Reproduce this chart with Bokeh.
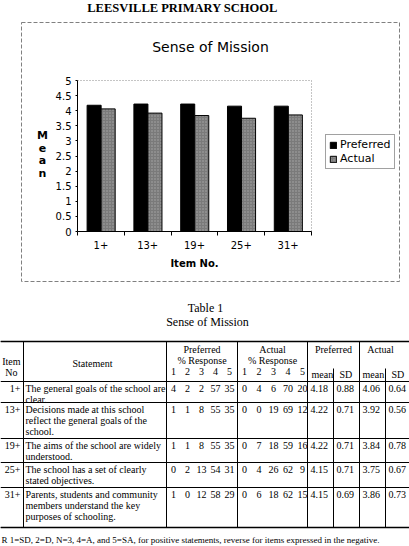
from bokeh.plotting import figure
from bokeh.models import (Range1d, FixedTicker, Legend, LegendItem, LinearAxis,
                          ColumnDataSource, CustomJSTickFormatter)
from bokeh.embed import file_html
from bokeh.resources import INLINE
from bokeh.core.properties import value

# ---------------- data ----------------
school = "LEESVILLE PRIMARY SCHOOL"
chart_title = "Sense of Mission"
y_title = "Mean"
x_title = "Item No."
items = ["1+", "13+", "19+", "25+", "31+"]
preferred = [4.18, 4.22, 4.22, 4.15, 4.15]
actual = [4.06, 3.92, 3.84, 3.75, 3.86]
y_ticks = [0, 0.5, 1, 1.5, 2, 2.5, 3, 3.5, 4, 4.5, 5]
series_names = ["Preferred", "Actual"]

table_caption = ["Table 1", "Sense of Mission"]
item_header = ["Item", "No"]
statement_header = "Statement"
pct_header = "% Response"
stat_header = ["mean", "SD", "mean", "SD"]
statements = [
    ["The general goals of the school are", "clear."],
    ["Decisions made at this school", "reflect the general goals of the", "school."],
    ["The aims of the school are widely", "understood."],
    ["The school has a set of clearly", "stated objectives."],
    ["Parents, students and community", "members understand the key", "purposes of schooling."],
]
scale_points = ["1", "2", "3", "4", "5"]
pref_pct = [[4, 2, 2, 57, 35], [1, 1, 8, 55, 35], [1, 1, 8, 55, 35], [0, 2, 13, 54, 31], [1, 0, 12, 58, 29]]
act_pct = [[0, 4, 6, 70, 20], [0, 0, 19, 69, 12], [0, 7, 18, 59, 16], [0, 4, 26, 62, 9], [0, 6, 18, 62, 15]]
pref_sd = [0.88, 0.71, 0.71, 0.71, 0.69]
act_sd = [0.64, 0.56, 0.78, 0.67, 0.73]
footnote = "R 1=SD, 2=D, N=3, 4=A, and 5=SA, for positive statements, reverse for items expressed in the negative."

# ---------------- layout constants (page pixels) ----------------
W, H = 409, 546
FL, FR, FT, FB = 77, 311, 80, 231      # plot area of the bar chart
SANS = "DejaVu Sans"
SERIF = "Liberation Serif"

n = len(items)
y_max = y_ticks[-1]

p = figure(width=W, height=H, x_range=Range1d(0, W), y_range=Range1d(H, 0),
           x_axis_type=None, y_axis_type=None, min_border=0,
           output_backend="svg", toolbar_location=None,
           background_fill_color="white", border_fill_color="white")
p.outline_line_color = None

# chart scales placed inside the page
vpx = n / (FR - FL)
cat0 = -FL * vpx
vpy = y_max / (FB - FT)
val0 = -(H - FB) * vpy
p.extra_x_ranges = {"cat": Range1d(cat0, cat0 + W * vpx)}
p.extra_y_ranges = {"val": Range1d(val0, val0 + H * vpy)}


def txt(xs, ys, texts, align, size="10px", font=SERIF, style="normal", baseline="middle"):
    p.text(x=xs, y=ys, text=texts, text_font=value(font), text_font_size=value(size),
           text_font_style=style, text_align=align, text_baseline=baseline, text_color="black")


# ---------------- chart ----------------
p.quad(left=[21], right=[399], top=[22], bottom=[281], fill_alpha=0,
       line_color="#808080", line_dash="4 2", line_width=1)
p.line(x=[0, n, n], y=[y_max, y_max, 0], x_range_name="cat", y_range_name="val",
       line_color="#8a8a8a", line_dash="1 2", line_width=1)

src = ColumnDataSource(dict(xp=[i + 0.355 for i in range(n)], xa=[i + 0.655 for i in range(n)],
                            pref=preferred, act=actual))
r1 = p.vbar(x="xp", top="pref", bottom=0, width=0.3, source=src, fill_color="black",
            line_color="black", x_range_name="cat", y_range_name="val")
r2 = p.vbar(x="xa", top="act", bottom=0, width=0.3, source=src, fill_color="#7a7a7a",
            line_color="black", hatch_pattern="dot", hatch_color="white", hatch_alpha=0.35,
            hatch_scale=3, hatch_weight=1, x_range_name="cat", y_range_name="val")

ya = LinearAxis(x_range_name="cat", y_range_name="val", fixed_location=0, bounds=(0, y_max),
                ticker=FixedTicker(ticks=y_ticks),
                formatter=CustomJSTickFormatter(code="return String(tick);"))
ya.major_tick_in = 0
ya.major_tick_out = 2
ya.minor_tick_out = 0
ya.axis_line_color = "black"
ya.major_label_text_font = SANS
ya.major_label_text_font_size = "10px"
ya.major_label_text_color = "black"
ya.major_label_standoff = 4
p.add_layout(ya, "left")

xa = LinearAxis(x_range_name="cat", y_range_name="val", fixed_location=0, bounds=(0, n),
                ticker=FixedTicker(ticks=[i + 0.5 for i in range(n)], minor_ticks=list(range(n + 1))),
                formatter=CustomJSTickFormatter(args=dict(labels=items),
                                                code="return labels[Math.round(tick - 0.5)];"))
xa.major_tick_in = 0
xa.major_tick_out = 0
xa.minor_tick_in = 0
xa.minor_tick_out = 4
xa.minor_tick_line_color = "black"
xa.axis_line_color = "black"
xa.major_label_text_font = SANS
xa.major_label_text_font_size = "10px"
xa.major_label_text_color = "black"
xa.major_label_standoff = 5
xa.axis_label = x_title
xa.axis_label_text_font = SANS
xa.axis_label_text_font_size = "10px"
xa.axis_label_text_font_style = "bold"
xa.axis_label_text_color = "black"
xa.axis_label_standoff = 6
p.add_layout(xa, "below")

txt([182], [7], [school], "center", size="12.5px", style="bold", baseline="alphabetic")
txt([210], [46], [chart_title], "center", size="14px", font=SANS)
txt([42] * len(y_title), [135 + 12.7 * k for k in range(len(y_title))], list(y_title),
    "center", size="11px", font=SANS, style="bold")

legend = Legend(items=[LegendItem(label=series_names[0], renderers=[r1]),
                       LegendItem(label=series_names[1], renderers=[r2])],
                location=(325, H - 169))
legend.label_text_font = SANS
legend.label_text_font_size = "11px"
legend.label_text_color = "black"
legend.glyph_width = 8
legend.glyph_height = 8
legend.label_standoff = 3
legend.label_height = 12
legend.padding = 3
legend.spacing = 1
legend.margin = 0
legend.border_line_color = "#444444"
legend.border_line_width = 1
legend.background_fill_color = "white"
legend.background_fill_alpha = 1
p.add_layout(legend)

# ---------------- table ----------------
row_bounds = [381, 402, 438, 462, 487, 527]
top_y = 341
col_x = [23, 166, 237, 307, 333, 359, 385]
line_gap = 11

txt([205, 207], [307, 321], table_caption, "center", size="12px")

hy = [top_y] + row_bounds
p.segment(x0=[0] * len(hy), y0=hy, x1=[W] * len(hy), y1=hy, line_color="black", line_width=1)
p.segment(x0=[0, 0], y0=[top_y, row_bounds[-1]], x1=[W, W], y1=[top_y, row_bounds[-1]],
          line_color="black", line_width=1.6)
vx = [col_x[0], col_x[1], col_x[2], col_x[3], col_x[5], col_x[4], col_x[6]]
vy0 = [top_y] * 5 + [368, 368]
p.segment(x0=vx, y0=vy0, x1=vx, y1=[row_bounds[-1]] * 7, line_color="black", line_width=1)

txt([20, 17], [361, 372], item_header, "right")
txt([92], [363], [statement_header], "center")
pc = [(col_x[1] + col_x[2]) / 2, (col_x[2] + col_x[3]) / 2]
txt([pc[0], pc[0], pc[1], pc[1]], [349, 360, 349, 360],
    [series_names[0], pct_header, series_names[1], pct_header], "center")
pref_cols = [col_x[1] + 7 + 14 * k for k in range(5)]
act_cols = [col_x[2] + 7 + 14.5 * k for k in range(5)]
txt(pref_cols + act_cols, [371] * 10, scale_points + scale_points, "center")
txt([(col_x[3] + col_x[5]) / 2, (col_x[5] + W) / 2 - 4], [349, 349], series_names, "center")
txt([col_x[3] + 4, col_x[4] + 6, col_x[5] + 3, col_x[6] + 6], [374] * 4, stat_header, "left")

lx, ly, lt = [], [], []
cx, cy, ct = [], [], []
rx, ry, rt = [], [], []
for r in range(len(statements)):
    y0 = row_bounds[r] + 7
    rx.append(20); ry.append(y0); rt.append(items[r])
    for k, line in enumerate(statements[r]):
        lx.append(col_x[0] + 2); ly.append(y0 + line_gap * k); lt.append(line)
    for k in range(5):
        cx.append(pref_cols[k]); cy.append(y0); ct.append(str(pref_pct[r][k]))
        cx.append(act_cols[k]); cy.append(y0); ct.append(str(act_pct[r][k]))
    vals = [preferred[r], pref_sd[r], actual[r], act_sd[r]]
    for k, cxx in enumerate([col_x[3], col_x[4], col_x[5], col_x[6]]):
        lx.append(cxx + 3); ly.append(y0); lt.append("%.2f" % vals[k])
txt(lx, ly, lt, "left")
txt(cx, cy, ct, "center")
txt(rx, ry, rt, "right")
txt([1], [539], [footnote], "left", size="9px")

open("out.html", "w").write(file_html(p, INLINE))
